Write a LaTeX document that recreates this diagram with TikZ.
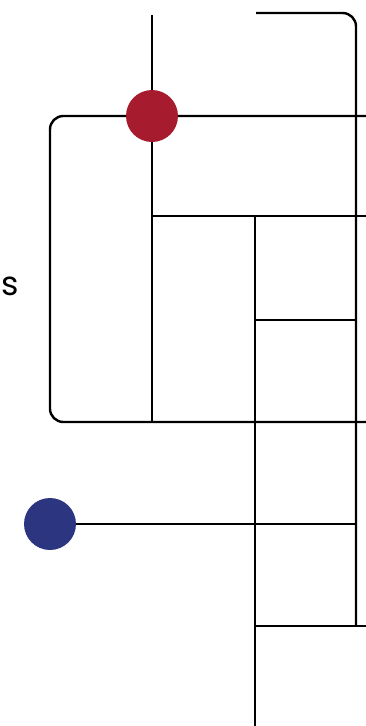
\documentclass[tikz,border=0pt]{standalone}
\usepackage{fontspec}
\setmainfont{Poppins}
\definecolor{dotred}{HTML}{A61C2E}
\definecolor{dotblue}{HTML}{2B3580}
\begin{document}
\begin{tikzpicture}[x=0.75pt,y=-0.75pt,
  wire/.style={line width=1.8pt,black},
  dot/.style={circle,minimum size=39pt,inner sep=0pt}]
  \useasboundingbox (0,0) rectangle (366,726);
  \coordinate (top) at (152,15);
  \coordinate (rail) at (356,625);
  \draw[wire,rounded corners=10pt] (256,13) -- (356,13) -- (rail);
  \draw[wire] (top) -- (152,422);
  \draw[wire] (255,216) -- (255,726);
  \draw[wire,rounded corners=10pt] (366,116) -- (50,116) -- (50,422) -- (366,422);
  \foreach \y/\x in {216/152,626/255}{\draw[wire] (\x,\y) -- (366,\y);}
  \draw[wire] (255,320) -- (356,320);
  \node[dot,fill=dotred] (hub) at (152,116) {};
  \node[dot,fill=dotblue] (src) at (50,524) {};
  \draw[wire] (src) -- (356,524);
  \node[anchor=base west,inner sep=0pt,font=\fontsize{25}{30}\selectfont] (lbl) at (1,295) {s};
\end{tikzpicture}
\end{document}
